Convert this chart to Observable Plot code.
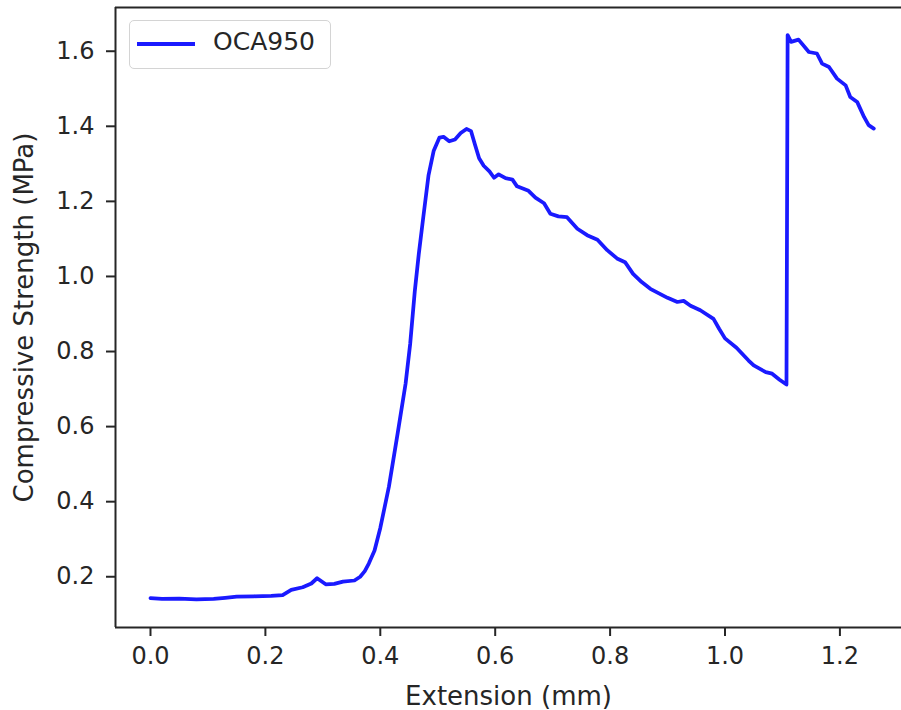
<!DOCTYPE html>
<html>
<head>
<meta charset="utf-8">
<script src="https://cdn.jsdelivr.net/npm/d3@7"></script>
<script src="https://cdn.jsdelivr.net/npm/@observablehq/plot@0.6"></script>
<style>
  html, body { margin: 0; padding: 0; background: #fff; }
  #wrap { position: relative; width: 901px; height: 710px; overflow: hidden; }
  #legend {
    position: absolute; left: 129px; top: 20px; width: 200px; height: 47px;
    border: 1.5px solid #d4d4d4; border-radius: 5px; background: rgba(255,255,255,0.8);
    font-family: "DejaVu Sans", sans-serif; font-size: 25px; color: #262626;
  }
  #legend .swatch { position: absolute; left: 7px; top: 21px; width: 58px; height: 4px; background: #1a1aff; }
  #legend .lab { position: absolute; left: 83px; top: 6px; line-height: 30px; }
</style>
</head>
<body>
<div id="wrap"></div>
<script>
const seriesName = "OCA950";
const xLabel = "Extension (mm)";
const yLabel = "Compressive Strength (MPa)";
const xTicks = [0.0, 0.2, 0.4, 0.6, 0.8, 1.0, 1.2];
const yTicks = [0.2, 0.4, 0.6, 0.8, 1.0, 1.2, 1.4, 1.6];

const extension = [
  0.000, 0.020, 0.050, 0.080, 0.110, 0.130, 0.150, 0.180, 0.210, 0.230,
  0.245, 0.265, 0.280, 0.290, 0.305, 0.320, 0.335, 0.355, 0.365, 0.373,
  0.380, 0.390, 0.400, 0.415, 0.430, 0.444, 0.452, 0.460, 0.467, 0.475,
  0.484, 0.493, 0.503, 0.510, 0.520, 0.530, 0.540, 0.550, 0.558, 0.565,
  0.572, 0.580, 0.590, 0.598, 0.606, 0.618, 0.630, 0.638, 0.658, 0.670,
  0.685, 0.696, 0.710, 0.725, 0.743, 0.760, 0.778, 0.795, 0.812, 0.826,
  0.840, 0.855, 0.870, 0.885, 0.900, 0.917, 0.928, 0.940, 0.957, 0.980,
  0.990, 1.000, 1.020, 1.041, 1.050, 1.071, 1.082, 1.095, 1.107, 1.109,
  1.115, 1.128, 1.146, 1.160, 1.169, 1.181, 1.195, 1.210, 1.218, 1.230,
  1.242, 1.250, 1.259
];
const strength = [
  0.143, 0.141, 0.142, 0.140, 0.141, 0.144, 0.147, 0.148, 0.149, 0.151,
  0.165, 0.172, 0.182, 0.196, 0.180, 0.181, 0.187, 0.190, 0.200, 0.215,
  0.235, 0.270, 0.330, 0.440, 0.580, 0.714, 0.820, 0.960, 1.060, 1.160,
  1.270, 1.335, 1.370, 1.372, 1.360, 1.365, 1.382, 1.393, 1.387, 1.350,
  1.315, 1.295, 1.280, 1.263, 1.272, 1.262, 1.258, 1.240, 1.228, 1.210,
  1.195, 1.167, 1.160, 1.158, 1.127, 1.110, 1.098, 1.070, 1.048, 1.038,
  1.007, 0.985, 0.967, 0.955, 0.943, 0.932, 0.935, 0.922, 0.910, 0.887,
  0.860, 0.835, 0.810, 0.776, 0.763, 0.745, 0.741, 0.725, 0.712, 1.643,
  1.625, 1.631, 1.598, 1.594, 1.567, 1.558, 1.527, 1.509, 1.478, 1.465,
  1.425, 1.403, 1.394
];

const data = extension.map((x, i) => ({x, y: strength[i]}));
const xDomain = [-0.0609, 1.3072];
const yDomain = [0.0648, 1.7165];
const fmt = d3.format(".1f");

const chart = Plot.plot({
  width: 901,
  height: 710,
  marginLeft: 115,
  marginRight: 0,
  marginTop: 7,
  marginBottom: 83,
  style: {fontFamily: "DejaVu Sans, sans-serif", fontSize: "24px", color: "#262626", background: "#fff", overflow: "visible"},
  x: {domain: xDomain},
  y: {domain: yDomain},
  marks: [
    Plot.axisX({ticks: xTicks, tickFormat: fmt, tickSize: 9, tickPadding: 10, strokeWidth: 2, stroke: "#262626",
      label: null, fontSize: 24}),
    Plot.axisX({ticks: [], label: xLabel, labelAnchor: "center", labelArrow: "none", labelOffset: 77, fontSize: 26}),
    Plot.axisY({ticks: yTicks, tickFormat: fmt, tickSize: 9, tickPadding: 12, strokeWidth: 2, stroke: "#262626",
      label: null, fontSize: 24}),
    Plot.axisY({ticks: [], label: yLabel, labelAnchor: "center", labelArrow: "none", labelOffset: 101, fontSize: 26}),
    Plot.ruleX([xDomain[0]], {stroke: "#262626", strokeWidth: 2}),
    Plot.ruleY([yDomain[0], yDomain[1]], {stroke: "#262626", strokeWidth: 2}),
    Plot.line(data, {x: "x", y: "y", stroke: "#1a1aff", strokeWidth: 3.75, strokeLinejoin: "round"})
  ]
});

const wrap = document.getElementById("wrap");
wrap.appendChild(chart);
const legend = document.createElement("div");
legend.id = "legend";
legend.innerHTML = `<div class="swatch"></div><div class="lab"></div>`;
legend.querySelector(".lab").textContent = seriesName;
wrap.appendChild(legend);
</script>
</body>
</html>
